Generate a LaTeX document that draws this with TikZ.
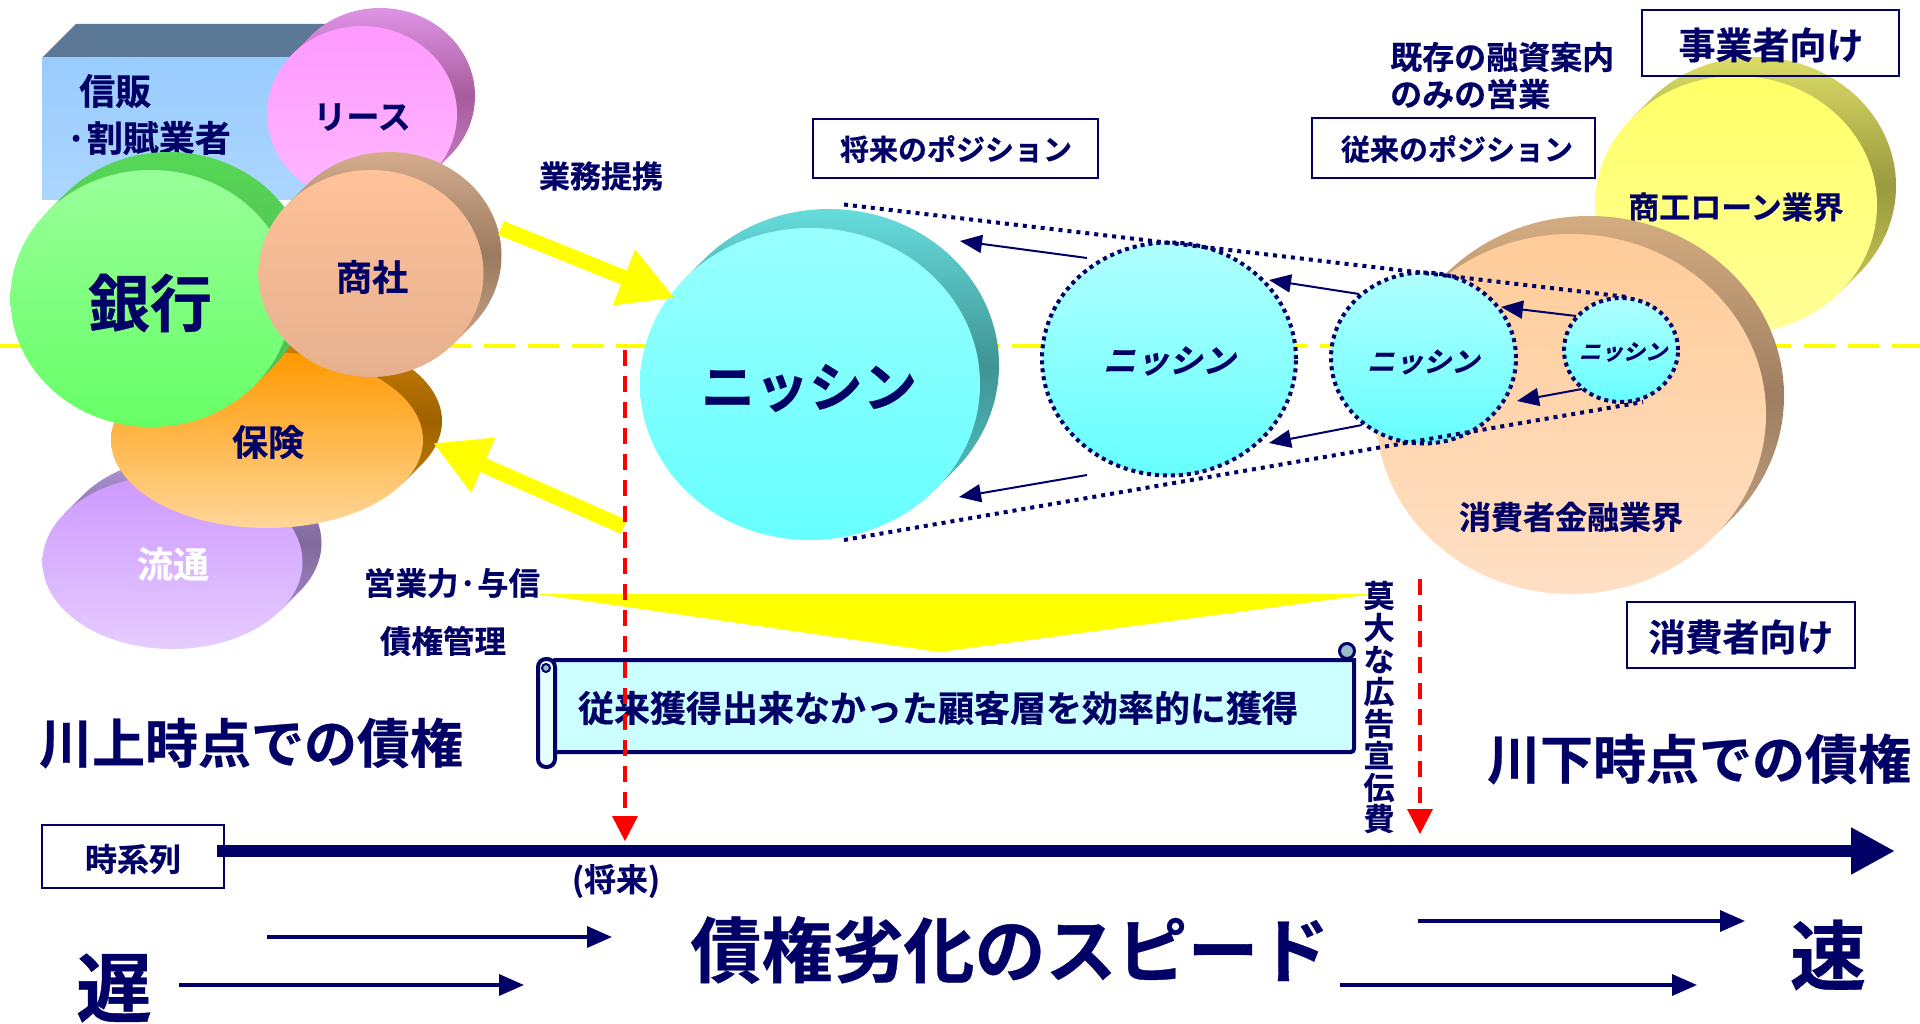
\documentclass[tikz,border=0pt]{standalone}
\usepackage{fontspec}
\setmainfont{Noto Sans CJK JP Bold}[FakeBold=0.5]
\newfontfamily\jpslant{Noto Sans CJK JP Bold}[FakeSlant=0.25,FakeBold=0.5]
\usetikzlibrary{shapes.geometric,arrows.meta}
\definecolor{navy}{HTML}{000066}
\definecolor{pureyellow}{HTML}{FFFF00}
\definecolor{purered}{HTML}{FF0000}
\definecolor{boxtop}{HTML}{5B7896}
\definecolor{boxFT}{HTML}{99CCFF}\definecolor{boxFB}{HTML}{ACD6FF}
\definecolor{scrollface}{HTML}{CCFFFF}
\definecolor{scrollroll}{HTML}{E6FFFF}
\definecolor{scrollcurl}{HTML}{99BBCC}
\definecolor{dotFT}{HTML}{B0FFFF}\definecolor{dotFB}{HTML}{66FFFF}
\definecolor{ryuST}{HTML}{B095D8}\definecolor{ryuSM}{HTML}{7F6A9C}\definecolor{ryuSB}{HTML}{A98BD0}
\definecolor{ryuFT}{HTML}{CC99FF}\definecolor{ryuFB}{HTML}{E6CCFF}
\definecolor{hokST}{HTML}{CC8000}\definecolor{hokSM}{HTML}{A06200}\definecolor{hokSB}{HTML}{C88400}
\definecolor{hokFT}{HTML}{FF9900}\definecolor{hokFB}{HTML}{FFD699}
\definecolor{leaST}{HTML}{DE94E6}\definecolor{leaSM}{HTML}{A85C9C}\definecolor{leaSB}{HTML}{C880CC}
\definecolor{leaFT}{HTML}{FF99FF}\definecolor{leaFB}{HTML}{FFB8FF}
\definecolor{banST}{HTML}{55D855}\definecolor{banSM}{HTML}{55C055}\definecolor{banSB}{HTML}{55C055}
\definecolor{banFT}{HTML}{99FF99}\definecolor{banFB}{HTML}{66FF66}
\definecolor{shoST}{HTML}{D4AC8C}\definecolor{shoSM}{HTML}{9A7A60}\definecolor{shoSB}{HTML}{D0A888}
\definecolor{shoFT}{HTML}{FFC299}\definecolor{shoFB}{HTML}{E6B08F}
\definecolor{nisST}{HTML}{66DCDC}\definecolor{nisSM}{HTML}{409494}\definecolor{nisSB}{HTML}{55C8C8}
\definecolor{nisFT}{HTML}{99FFFF}\definecolor{nisFB}{HTML}{66FFFF}
\definecolor{yelST}{HTML}{DCDC66}\definecolor{yelSM}{HTML}{999940}\definecolor{yelSB}{HTML}{D0D055}
\definecolor{yelFT}{HTML}{FFFF66}\definecolor{yelFB}{HTML}{FFFF99}
\definecolor{conST}{HTML}{D4AC80}\definecolor{conSM}{HTML}{9E7E60}\definecolor{conSB}{HTML}{C8A888}
\definecolor{conFT}{HTML}{FFCC99}\definecolor{conFB}{HTML}{FFDFC4}
\newcommand\orb[6]{%
  \pgfmathsetmacro\ot{atan2(#5,#4)}%
  \pgfmathsetmacro\oa{#4*cos(\ot)}%
  \pgfmathsetmacro\ob{#5*sin(\ot)}%
  \shade[top color=#1ST,bottom color=#1SB,middle color=#1SM]
    ({#2+#6},{-#3+#6}) ellipse [x radius=#4,y radius=#5]
    ({#2+\oa},{-#3-\ob}) -- ({#2+\oa+#6},{-#3-\ob+#6}) -- ({#2-\oa+#6},{-#3+\ob+#6}) -- ({#2-\oa},{-#3+\ob}) -- cycle;
  \node[ellipse,inner sep=0pt,outer sep=0pt,minimum width={2*#4pt},minimum height={2*#5pt},top color=#1FT,bottom color=#1FB] (#1) at (#2,-#3) {};%
}
\newcommand\fs[1]{\fontsize{#1}{#1}\selectfont}
\tikzset{
  x=1pt,y=1pt,
  lab/.style={text=navy,inner sep=0pt},
  tagbox/.style={draw=navy,line width=2.5pt,inner sep=0pt},
  dotcirc/.style={ellipse,inner sep=0pt,outer sep=0pt,draw=navy,line width=4pt,dash pattern=on 4pt off 4pt,top color=dotFT,bottom color=dotFB},
  dotline/.style={draw=navy,line width=4pt,dash pattern=on 4pt off 5pt},
  thinarrow/.style={draw=navy,line width=2pt,-{Triangle[length=22pt,width=18pt]}},
  longarrow/.style={draw=navy,line width=3.5pt,-{Triangle[length=25pt,width=21pt]}},
  bigyellow/.style={draw=pureyellow,line width=15pt,-{Triangle[length=55pt,width=56pt]}},
  reddash/.style={draw=purered,line width=3.5pt,dash pattern=on 16pt off 10pt},
  redhead/.style={fill=purered,draw=none}
}
\begin{document}
\begin{tikzpicture}
\useasboundingbox (0,0) rectangle (1920,-1024);
\fill[white] (0,0) rectangle (1920,-1024);
% named free ends
\coordinate (dashL) at (0,-346);
\coordinate (dashR) at (1920,-346);
% horizon
\draw[pureyellow,line width=4pt,dash pattern=on 31pt off 13pt] (dashL) -- (dashR);
% left cluster
\orb{ryu}{172.5}{562}{130}{87}{19}
\node[text=white,inner sep=0pt,font=\fs{36}] (tRyu) at (173,-564) {流通};
\orb{hok}{267}{440}{156}{88}{19}
\node[lab,font=\fs{36}] (tHok) at (268,-442) {保険};
\fill[boxtop] (42,-58) -- (76,-24) -- (326,-24) -- (292,-58) -- cycle;
\shade[top color=boxFT,bottom color=boxFB] (42,-58) rectangle (306,-200);
\node[lab,anchor=west,font=\fs{36}] (tShin) at (79,-91) {信販};
\node[lab,anchor=east,font=\fs{36}] (tKap) at (231,-138) {·割賦業者};
\orb{lea}{362}{114}{95}{88}{18}
\node[lab,font=\fs{33}] (tLea) at (362,-117) {リース};
\orb{ban}{151}{298.5}{140.5}{128.5}{18}
\node[lab,font=\fs{62}] (tBan) at (150,-303) {銀行};
\orb{sho}{371}{273.5}{112.5}{103.5}{18}
\node[lab,font=\fs{36}] (tSho) at (372,-277) {商社};
% right cluster
\orb{yel}{1736}{205}{141}{129}{19}
\node[lab,font=\fs{31}] (tYel) at (1736,-207) {商工ローン業界};
\node[tagbox,minimum width=257pt,minimum height=66pt] (bJig) at (1770.5,-43) {};
\node[lab,font=\fs{37}] (tJig) at (1771,-45) {事業者向け};
\orb{con}{1571}{414}{195}{180}{18}
\node[lab,font=\fs{32}] (tCon) at (1571,-517) {消費者金融業界};
% Nisshin
\orb{nis}{810}{384}{170}{156}{19}
\node[lab,font=\fs{54}] (tNis) at (809,-388) {ニッシン};
\node[dotcirc,minimum width=254pt,minimum height=233pt] (c2) at (1169,-359) {};
\node[dotcirc,minimum width=185pt,minimum height=171pt] (c3) at (1423.5,-358) {};
\node[dotcirc,minimum width=114pt,minimum height=104pt] (c4) at (1621,-350) {};
\node[lab,font=\jpslant\fs{33}] (t2) at (1169,-361) {ニッシン};
\node[lab,font=\jpslant\fs{28}] (t3) at (1423,-362) {ニッシン};
\node[lab,font=\jpslant\fs{22}] (t4) at (1623,-352) {ニッシン};
% dotted envelope
\coordinate (envTL) at (844,-204.5);
\coordinate (envTR) at (1627,-297);
\coordinate (envBL) at (844,-540);
\coordinate (envBR) at (1643,-402);
\draw[dotline] (envTL) -- (envTR);
\draw[dotline] (envBL) -- (envBR);
% thin arrows
\coordinate (a1s) at (1087,-258); \coordinate (a1e) at (960,-241);
\coordinate (a2s) at (1359,-294); \coordinate (a2e) at (1269,-280);
\coordinate (a3s) at (1576,-316); \coordinate (a3e) at (1501,-307);
\coordinate (a4s) at (1582,-389); \coordinate (a4e) at (1517,-401);
\coordinate (a5s) at (1362,-425); \coordinate (a5e) at (1269,-443);
\coordinate (a6s) at (1087,-475); \coordinate (a6e) at (959,-497);
\foreach \n in {1,...,6} \draw[thinarrow] (a\n s) -- (a\n e);
% yellow arrows
\coordinate (y1s) at (501,-228); \coordinate (y1e) at (675,-298);
\coordinate (y2s) at (624,-527); \coordinate (y2e) at (433,-443);
\draw[bigyellow] (y1s) -- (y1e);
\draw[bigyellow] (y2s) -- (y2e);
% yellow funnel
\fill[pureyellow] (537,-594) -- (1373,-594) -- (939,-652) -- cycle;
% scroll
\draw[navy,line width=3pt,fill=scrollcurl] (1347,-651) circle[radius=7.5];
\draw[navy,line width=4pt,fill=scrollface] (552,-660) -- (1354,-660) -- (1354,-748) [rounded corners=3pt] -- (1354,-752) -- (552,-752) -- cycle;
\draw[navy,line width=4pt,fill=scrollroll,rounded corners=8pt] (538,-659) rectangle (555,-767);
\draw[navy,line width=2pt,fill=scrollcurl] (546,-668) circle[radius=4];
\node[lab,font=\fs{36}] (tScr) at (938,-708) {従来獲得出来なかった顧客層を効率的に獲得};
% red arrows
\coordinate (r1s) at (625,-350); \coordinate (r1e) at (625,-816);
\coordinate (r2s) at (1420,-579); \coordinate (r2e) at (1420,-809);
\draw[reddash] (r1s) -- (r1e);
\draw[reddash] (r2s) -- (r2e);
\fill[redhead] (612,-816) -- (638,-816) -- (625,-841) -- cycle;
\fill[redhead] (1407,-809) -- (1433,-809) -- (1420,-834) -- cycle;
% labels
\node[lab,font=\fs{31}] (tGyo) at (601,-176) {業務提携};
\node[lab,font=\fs{31.5}] (tEig) at (452,-583) {営業力·与信};
\node[lab,font=\fs{31.5}] (tSai) at (443,-641) {債権管理};
\node[tagbox,minimum width=285pt,minimum height=59pt] (bFut) at (955.5,-148.5) {};
\node[lab,font=\fs{29}] (tFut) at (956,-149) {将来のポジション};
\node[tagbox,minimum width=283pt,minimum height=60pt] (bPas) at (1453.5,-148) {};
\node[lab,font=\fs{29}] (tPas) at (1457,-149) {従来のポジション};
\node[lab,anchor=west,font=\fs{32}] (tKi1) at (1390,-57) {既存の融資案内};
\node[lab,anchor=west,font=\fs{32}] (tKi2) at (1390,-94) {のみの営業};
\node[tagbox,minimum width=228pt,minimum height=66pt] (bSho) at (1741,-635) {};
\node[lab,font=\fs{37}] (tSyo) at (1741,-637) {消費者向け};
\node[lab,font=\fs{53}] (tUp) at (251,-743) {川上時点での債権};
\node[lab,font=\fs{53}] (tDn) at (1699,-759) {川下時点での債権};
\node[lab,align=center,font=\fs{31},text width=32pt] (tBaku) at (1379,-707) {\baselineskip=32pt 莫\\大\\な\\広\\告\\宣\\伝\\費};
% axis
\node[tagbox,fill=white,minimum width=182pt,minimum height=63pt] (bTim) at (133,-856.5) {};
\node[lab,font=\fs{32}] (tTim) at (133,-859) {時系列};
\coordinate (axS) at (217,-851); \coordinate (axE) at (1895,-851);
\draw[navy,line width=12pt,-{Triangle[length=44pt,width=44pt]}] (axS) -- (axE);
\node[lab,font=\fs{32}] (tFu2) at (616,-881) {(将来)};
% bottom
\node[lab,font=\fs{71}] (tSpeed) at (1010,-950) {債権劣化のスピード};
\node[lab,font=\fs{76}] (tOso) at (114,-988) {遅};
\node[lab,font=\fs{76}] (tHay) at (1828,-955) {速};
\coordinate (b1s) at (267,-937); \coordinate (b1e) at (612,-937);
\coordinate (b2s) at (179,-985); \coordinate (b2e) at (524,-985);
\coordinate (b3s) at (1418,-921); \coordinate (b3e) at (1745,-921);
\coordinate (b4s) at (1340,-985); \coordinate (b4e) at (1697,-985);
\foreach \n in {1,...,4} \draw[longarrow] (b\n s) -- (b\n e);
\end{tikzpicture}
\end{document}
